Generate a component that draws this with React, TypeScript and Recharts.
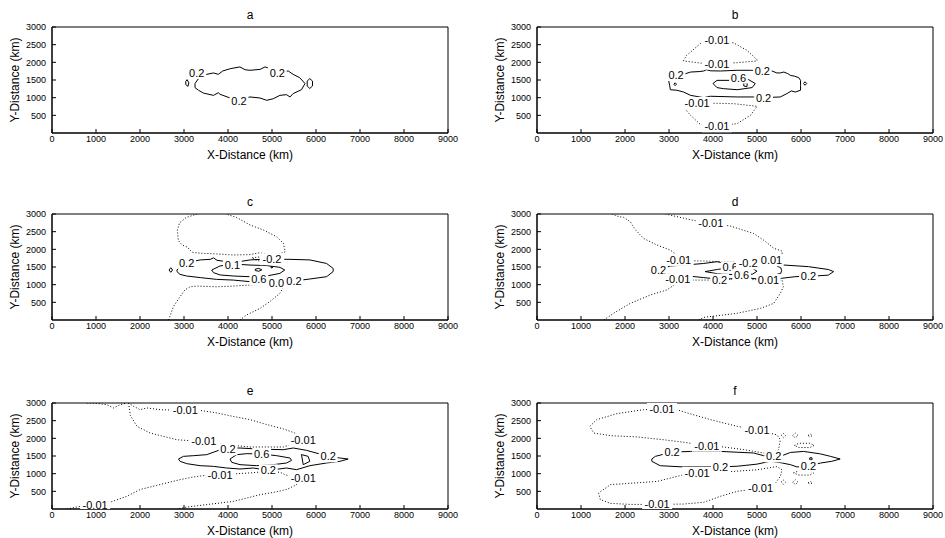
import React from 'react';
import { ScatterChart, Scatter, XAxis, YAxis, ReferenceArea } from 'recharts';

type Pt = [number, number];
type Lbl = { x: number; y: number; t: string };

const X_TICKS = [0, 1000, 2000, 3000, 4000, 5000, 6000, 7000, 8000, 9000];
const Y_TICKS = [500, 1000, 1500, 2000, 2500, 3000];

// ---- panel a
const A_02: Pt[] = [[3250,1400],[3330,1540],[3420,1650],[3520,1660],[3670,1700],[3780,1660],[3880,1755],[4050,1820],[4270,1870],[4390,1790],[4500,1775],[4730,1800],[4840,1870],[4920,1840],[5050,1760],[5200,1730],[5370,1755],[5480,1660],[5630,1565],[5750,1400],[5670,1225],[5480,1115],[5410,1020],[5330,1085],[5180,1065],[5030,970],[4880,925],[4730,990],[4500,1020],[4300,960],[4050,990],[3820,1095],[3780,1140],[3670,1065],[3440,1130],[3330,1210],[3250,1285],[3250,1400]];
const A_SMALL_L: Pt[] = [[3070,1510],[3110,1420],[3090,1320],[3040,1370],[3040,1460],[3070,1510]];
const A_SMALL_R: Pt[] = [[5860,1540],[5920,1470],[5920,1330],[5860,1260],[5800,1330],[5800,1470],[5860,1540]];
const A_LABELS: Lbl[] = [{x:3290,y:1700,t:'0.2'},{x:5120,y:1700,t:'0.2'},{x:4250,y:905,t:'0.2'}];

// ---- panel b
const B_NEG_UP: Pt[] = [[3330,2040],[3400,2200],[3490,2290],[3710,2530],[4090,2620],[4470,2550],[4770,2340],[5000,2075],[5000,2040],[4550,1990],[4090,1960],[3710,1980],[3330,2040]];
const B_NEG_DN: Pt[] = [[3400,820],[3640,850],[4100,840],[4470,830],[5000,755],[4850,500],[4550,265],[4090,190],[3710,245],[3490,500],[3330,735],[3400,820]];
const B_02: Pt[] = [[2990,1490],[3140,1630],[3330,1660],[3490,1725],[3700,1740],[3790,1755],[3850,1790],[3950,1760],[4170,1755],[4550,1775],[4850,1775],[5110,1755],[5340,1755],[5450,1700],[5530,1700],[5610,1725],[5700,1680],[5760,1630],[5850,1610],[5950,1565],[5990,1490],[5990,1350],[5990,1210],[5870,1160],[5780,1190],[5680,1115],[5530,1020],[5150,1000],[4920,1020],[4550,1020],[3940,1040],[3790,1000],[3490,1065],[3330,1160],[3180,1210],[3030,1225],[3015,1350],[2990,1490]];
const B_06: Pt[] = [[4000,1400],[4090,1490],[4390,1490],[4580,1565],[4810,1510],[4960,1400],[4890,1285],[4550,1225],[4240,1255],[4090,1285],[4000,1400]];
const B_SMALL_1: Pt[] = [[4700,1430],[4780,1410],[4770,1310],[4700,1330],[4700,1430]];
const B_SMALL_2: Pt[] = [[6090,1450],[6130,1400],[6090,1350],[6060,1400],[6090,1450]];
const B_SMALL_3: Pt[] = [[3140,1420],[3170,1380],[3140,1340],[3110,1380],[3140,1420]];
const B_LABELS: Lbl[] = [{x:3160,y:1640,t:'0.2'},{x:4090,y:2620,t:'-0.01'},{x:4090,y:1965,t:'-0.01'},{x:4580,y:1570,t:'0.6'},{x:5120,y:1755,t:'0.2'},{x:5150,y:1000,t:'0.2'},{x:3640,y:850,t:'-0.01'},{x:4090,y:190,t:'-0.01'}];

// ---- panel c
const C_NEG_UP: Pt[] = [[3300,3000],[3050,2900],[2900,2750],[2850,2550],[2870,2250],[2960,2120],[3080,2060],[3180,1920],[3370,1890],[3740,1870],[4120,1840],[4500,1850],[4700,1900],[4850,1880],[5050,1820],[5300,1930],[5260,2170],[5100,2360],[4800,2550],[4500,2690],[4200,2900],[3950,3000]];
const C_NEG_DN: Pt[] = [[2650,0],[2760,380],[2910,660],[3020,850],[3140,940],[3290,960],[3740,940],[4120,960],[4500,990],[4800,1010],[5100,990],[5260,940],[5180,755],[4950,520],[4730,330],[4420,140],[4270,0]];
const C_02: Pt[] = [[2840,1415],[2950,1555],[3060,1620],[3370,1700],[3600,1717],[3670,1760],[3750,1690],[3970,1650],[4200,1640],[4500,1700],[4800,1720],[5000,1720],[5410,1717],[5860,1700],[6240,1600],[6390,1460],[6390,1370],[6240,1225],[5860,1160],[5500,1104],[5260,1085],[4900,1060],[4500,1085],[4120,1130],[3740,1150],[3370,1200],[3060,1245],[2910,1290],[2840,1370],[2840,1415]];
const C_06: Pt[] = [[3630,1415],[3820,1530],[4120,1585],[4500,1555],[4880,1540],[5180,1490],[5290,1415],[5180,1320],[4880,1245],[4690,1150],[4500,1225],[4120,1245],[3820,1275],[3670,1340],[3630,1415]];
const C_NEG_02: Pt[] = [[4550,1760],[4750,1790],[4950,1770],[5100,1700],[4900,1660],[4650,1680],[4550,1760]];
const C_SMALL_1: Pt[] = [[2700,1480],[2740,1415],[2700,1350],[2660,1415],[2700,1480]];
const C_SMALL_2: Pt[] = [[4620,1440],[4700,1460],[4770,1420],[4700,1380],[4620,1400],[4620,1440]];
const C_SMALL_3: Pt[] = [[4970,1510],[5020,1490],[4990,1470],[4970,1510]];
const C_LABELS: Lbl[] = [{x:3060,y:1620,t:'0.2'},{x:4100,y:1560,t:'0.1'},{x:5000,y:1720,t:'-0.2'},{x:4700,y:1150,t:'0.6'},{x:5100,y:1060,t:'0.0'},{x:5500,y:1100,t:'0.2'}];

// ---- panel d
const D_NEG_UP: Pt[] = [[1700,3000],[1860,2925],[1970,2905],[2120,2780],[2240,2550],[2420,2310],[2730,2120],[3030,1980],[3180,1840],[3250,1720],[3400,1680],[3790,1670],[4170,1650],[4500,1650],[4800,1680],[5100,1700],[5300,1700],[5570,1840],[5570,1950],[5380,2030],[5150,2260],[4920,2450],[4390,2660],[3950,2740],[3520,2830],[3180,2925],[2920,3000]];
const D_NEG_DN: Pt[] = [[1520,0],[1740,190],[2120,470],[2580,710],[2950,850],[3180,1040],[3300,1140],[3560,1130],[3940,1130],[4240,1140],[4650,1150],[5000,1140],[5260,1130],[5570,1130],[5600,940],[5530,755],[5380,470],[5080,330],[4550,190],[3790,75],[3670,0]];
const D_02: Pt[] = [[2760,1420],[3030,1530],[3410,1560],[3790,1600],[4090,1650],[4430,1560],[4880,1600],[5260,1650],[5560,1560],[6170,1510],[6620,1430],[6740,1370],[6620,1270],[6320,1245],[6170,1245],[5860,1225],[5560,1180],[5260,1130],[4880,1180],[4650,1210],[4240,1140],[3790,1200],[3590,1225],[3030,1290],[2760,1330],[2760,1420]];
const D_06: Pt[] = [[4424,1490],[4100,1430],[3820,1370],[4100,1310],[4650,1273],[4900,1300],[5000,1380],[4900,1460],[4424,1490]];
const D_SMALL: Pt[] = [[5450,1530],[5540,1480],[5560,1400],[5540,1320],[5450,1290]];
const D_LABELS: Lbl[] = [{x:2760,y:1420,t:'0.2'},{x:3220,y:1700,t:'-0.01'},{x:3950,y:2740,t:'-0.01'},{x:4390,y:1490,t:'0.6'},{x:4800,y:1600,t:'-0.2'},{x:5330,y:1690,t:'0.01'},{x:3200,y:1150,t:'-0.01'},{x:4150,y:1140,t:'0.2'},{x:4650,y:1270,t:'0.6'},{x:5260,y:1130,t:'0.01'},{x:6170,y:1245,t:'0.2'}];

// ---- panel e
const E_NEG_TOP: Pt[] = [[790,3000],[1000,2990],[1250,2950],[1400,2860],[1550,2950],[1700,3000]];
const E_NEG_UP: Pt[] = [[1740,3000],[1780,2650],[1930,2340],[2230,2150],[2840,1960],[3370,1915],[3590,1870],[3970,1820],[4500,1755],[4880,1755],[5260,1755],[5410,1820],[5520,1960],[5520,2150],[5260,2265],[4880,2390],[4500,2530],[4120,2620],[3740,2720],[3370,2790],[3030,2790],[2460,2810],[2155,2860],[2004,2810],[1853,2906],[1760,2985]];
const E_NEG_DN: Pt[] = [[340,0],[640,75],[980,125],[1320,190],[1700,360],[2000,550],[2610,740],[2910,830],[3210,905],[3440,945],[3820,955],[4200,1000],[4500,1020],[4880,1065],[5180,1040],[5300,970],[5500,900],[5560,690],[5330,550],[5030,470],[4730,405],[4120,215],[3520,125],[3060,55],[2840,0]];
const E_02: Pt[] = [[2874,1415],[2987,1490],[3214,1509],[3517,1538],[3933,1726],[4273,1726],[4652,1698],[5256,1679],[5483,1726],[5786,1660],[6277,1490],[6542,1443],[6731,1415],[6542,1349],[6239,1302],[5861,1226],[5559,1113],[5332,1160],[4916,1094],[4576,1160],[4273,1132],[3970,1160],[3668,1207],[3366,1226],[3063,1283],[2912,1349],[2874,1415]];
const E_06: Pt[] = [[4046,1415],[4197,1538],[4424,1566],[4765,1557],[5105,1509],[5407,1443],[5445,1377],[5332,1302],[5029,1255],[4652,1226],[4273,1255],[4084,1321],[4046,1415]];
const E_SMALL: Pt[] = [[5670,1540],[5820,1490],[5860,1350],[5710,1255],[5670,1540]];
const E_LABELS: Lbl[] = [{x:3030,y:2790,t:'-0.01'},{x:3450,y:1920,t:'-0.01'},{x:4000,y:1690,t:'0.2'},{x:4765,y:1557,t:'0.6'},{x:5710,y:1960,t:'-0.01'},{x:6277,y:1490,t:'0.2'},{x:4916,y:1094,t:'0.2'},{x:3820,y:955,t:'-0.01'},{x:5710,y:877,t:'-0.01'},{x:980,y:125,t:'-0.01'}];

// ---- panel f
const F_NEG_UP: Pt[] = [[2840,2830],[2420,2810],[1820,2700],[1360,2530],[1200,2340],[1290,2150],[1670,2075],[2270,2040],[2880,1960],[3330,1890],[3860,1790],[4240,1755],[4700,1680],[5080,1600],[5300,1560],[5490,1680],[5530,1960],[5450,2100],[5000,2230],[4550,2340],[3940,2530],[3410,2720],[3180,2810],[2840,2830]];
const F_NEG_DN: Pt[] = [[3640,1020],[3330,970],[2730,780],[1670,690],[1400,450],[1440,265],[1670,160],[2120,130],[2730,130],[3330,140],[3790,190],[4170,360],[4550,500],[5080,590],[5420,735],[5530,925],[5570,1110],[5450,1200],[5000,1110],[4470,1065],[3940,1040],[3640,1020]];
const F_02: Pt[] = [[2610,1415],[2690,1490],[3070,1610],[3490,1630],[4170,1630],[4920,1585],[5150,1510],[5380,1490],[5570,1510],[5760,1600],[6060,1630],[6440,1560],[6670,1490],[6890,1415],[6700,1350],[6440,1300],[6170,1210],[5910,1190],[5760,1255],[5500,1320],[5300,1350],[5000,1270],[4550,1210],[4170,1190],[3790,1190],[3330,1190],[2800,1225],[2610,1350],[2610,1415]];
const F_NEG_S1: Pt[] = [[5850,1800],[5950,1860],[6200,1860],[6300,1800],[6200,1740],[5950,1740],[5850,1800]];
const F_NEG_S2: Pt[] = [[5830,1020],[5950,1080],[6200,1080],[6290,1020],[6200,960],[5950,960],[5830,1020]];
const F_NEG_S3: Pt[] = [[5550,2080],[5600,2140],[5650,2080],[5600,2020],[5550,2080]];
const F_NEG_S4: Pt[] = [[5810,2080],[5870,2150],[5930,2080],[5870,2010],[5810,2080]];
const F_NEG_S5: Pt[] = [[6160,2080],[6210,2120],[6260,2080],[6210,2040],[6160,2080]];
const F_NEG_S6: Pt[] = [[5550,760],[5600,820],[5650,760],[5600,700],[5550,760]];
const F_NEG_S7: Pt[] = [[5810,760],[5870,830],[5930,760],[5870,690],[5810,760]];
const F_NEG_S8: Pt[] = [[6160,740],[6210,780],[6260,740],[6210,700],[6160,740]];
const F_SMALL: Pt[] = [[6200,1450],[6250,1450],[6250,1390],[6200,1390],[6200,1450]];
const F_LABELS: Lbl[] = [{x:2840,y:2830,t:'-0.01'},{x:5000,y:2230,t:'-0.01'},{x:3860,y:1790,t:'-0.01'},{x:3070,y:1610,t:'0.2'},{x:5380,y:1490,t:'0.2'},{x:3640,y:1020,t:'-0.01'},{x:4170,y:1190,t:'0.2'},{x:6170,y:1210,t:'0.2'},{x:5080,y:590,t:'-0.01'},{x:2730,y:140,t:'-0.01'}];

type PanelDef = { title: string; solid: Pt[][]; dotted: Pt[][]; labels: Lbl[] };

const PANELS: PanelDef[] = [
  { title: 'a', solid: [A_02, A_SMALL_L, A_SMALL_R], dotted: [], labels: A_LABELS },
  { title: 'b', solid: [B_02, B_06, B_SMALL_1, B_SMALL_2, B_SMALL_3], dotted: [B_NEG_UP, B_NEG_DN], labels: B_LABELS },
  { title: 'c', solid: [C_02, C_06, C_SMALL_1, C_SMALL_2, C_SMALL_3], dotted: [C_NEG_UP, C_NEG_DN, C_NEG_02], labels: C_LABELS },
  { title: 'd', solid: [D_02, D_06, D_SMALL], dotted: [D_NEG_UP, D_NEG_DN], labels: D_LABELS },
  { title: 'e', solid: [E_02, E_06, E_SMALL], dotted: [E_NEG_TOP, E_NEG_UP, E_NEG_DN], labels: E_LABELS },
  { title: 'f', solid: [F_02, F_SMALL], dotted: [F_NEG_UP, F_NEG_DN, F_NEG_S1, F_NEG_S2, F_NEG_S3, F_NEG_S4, F_NEG_S5, F_NEG_S6, F_NEG_S7, F_NEG_S8], labels: F_LABELS },
];

const COL_LEFT = [0, 485];
const ROW_TOP = [0, 187, 376];
const CHART_W = 460;
const CHART_H = 163;
const MARGIN = { top: 27, right: 12, bottom: 0, left: 0 };

const toXY = (pts: Pt[]) => pts.map(([x, y]) => ({ x, y }));

const LabelMark = (props: any) => {
  const { cx, cy, payload } = props;
  if (cx == null || cy == null) return <g />;
  const w = payload.t.length * 5.6 + 2;
  return (
    <g>
      <rect x={cx - w / 2} y={cy - 6} width={w} height={12} fill="#fff" />
      <text x={cx} y={cy + 4} textAnchor="middle" fontSize={11} fill="#000">
        {payload.t}
      </text>
    </g>
  );
};

const Panel = ({ def, left, top }: { def: PanelDef; left: number; top: number }) => (
  <div style={{ position: 'absolute', left, top, width: CHART_W, height: CHART_H }}>
    <div
      style={{
        position: 'absolute',
        left: 52,
        width: 396,
        top: 8,
        textAlign: 'center',
        fontSize: 12,
        lineHeight: '14px',
      }}
    >
      {def.title}
    </div>
    <ScatterChart width={CHART_W} height={CHART_H} margin={MARGIN}>
      <XAxis
        type="number"
        dataKey="x"
        domain={[0, 9000]}
        ticks={X_TICKS}
        allowDataOverflow
        height={30}
        tickSize={-4}
        tickMargin={7}
        tick={{ fill: '#000', fontSize: 9 }}
        stroke="#000"
        label={{ value: 'X-Distance (km)', position: 'insideBottom', offset: 4, fill: '#000', fontSize: 12 }}
      />
      <YAxis
        type="number"
        dataKey="y"
        domain={[0, 3000]}
        ticks={Y_TICKS}
        allowDataOverflow
        width={52}
        tickSize={-4}
        tickMargin={10}
        tick={{ fill: '#000', fontSize: 9 }}
        stroke="#000"
        label={{
          value: 'Y-Distance (km)',
          angle: -90,
          position: 'insideLeft',
          offset: 15,
          textAnchor: 'middle',
          fill: '#000',
          fontSize: 12,
        }}
      />
      <ReferenceArea x1={0} x2={9000} y1={0} y2={3000} fill="none" stroke="#000" strokeWidth={1} />
      {def.dotted.map((c, i) => (
        <Scatter
          key={`d${i}`}
          data={toXY(c)}
          fill="#000"
          line={{ stroke: '#000', strokeWidth: 1, strokeDasharray: '1 2' }}
          lineType="joint"
          shape={() => <g />}
          isAnimationActive={false}
        />
      ))}
      {def.solid.map((c, i) => (
        <Scatter
          key={`s${i}`}
          data={toXY(c)}
          fill="#000"
          line={{ stroke: '#000', strokeWidth: 1 }}
          lineType="joint"
          shape={() => <g />}
          isAnimationActive={false}
        />
      ))}
      <Scatter data={def.labels} fill="#000" shape={(p: any) => <LabelMark {...p} />} isAnimationActive={false} />
    </ScatterChart>
  </div>
);

export default function App() {
  return (
    <div
      style={{
        position: 'absolute',
        left: 0,
        top: 0,
        width: 945,
        height: 538,
        overflow: 'hidden',
        background: '#fff',
        fontFamily: '"Liberation Sans", Arial, sans-serif',
      }}
    >
      {PANELS.map((p, i) => (
        <Panel key={p.title} def={p} left={COL_LEFT[i % 2]} top={ROW_TOP[Math.floor(i / 2)]} />
      ))}
    </div>
  );
}
